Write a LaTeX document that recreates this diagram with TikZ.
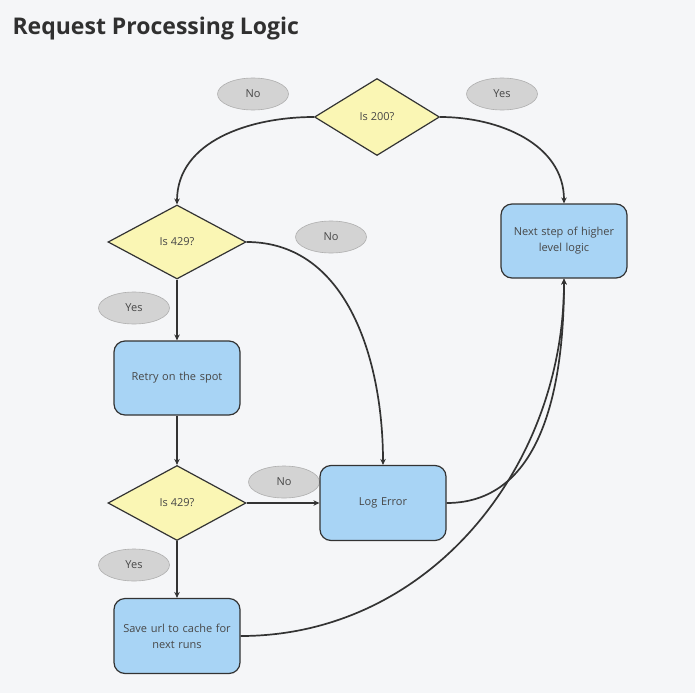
\documentclass[tikz,border=0pt]{standalone}
\usepackage{fontspec}
\setmainfont{Open Sans}
\usetikzlibrary{shapes.geometric,arrows.meta}
\definecolor{bg}{HTML}{F5F6F8}
\definecolor{dfill}{HTML}{FAF6B4}
\definecolor{bfill}{HTML}{A8D4F5}
\definecolor{efill}{HTML}{D3D3D3}
\definecolor{edraw}{HTML}{AFAFAF}
\definecolor{ink}{HTML}{333333}
\begin{document}
\begin{tikzpicture}[x=1pt,y=-1pt,
  dec/.style={diamond,draw=ink,line width=1.2pt,fill=dfill,minimum width=138pt,minimum height=74pt,inner sep=0pt,font=\fontsize{11}{13}\selectfont,text=ink!90},
  proc/.style={rectangle,rounded corners=11pt,draw=ink,line width=1.2pt,fill=bfill,minimum width=126pt,minimum height=74pt,align=center,text width=118pt,font=\fontsize{11}{16}\selectfont,text=ink!90},
  lbl/.style={ellipse,draw=edraw,line width=0.6pt,fill=efill,minimum width=71pt,minimum height=32pt,inner sep=0pt,font=\fontsize{11}{13}\selectfont,text=ink!90},
  conn/.style={draw=ink,line width=1.7pt,-{Stealth[length=6pt,width=5.5pt]}}]
\useasboundingbox[fill=bg] (0,0) rectangle (695,693);
\node[anchor=base west,font=\fontsize{23}{26}\selectfont\bfseries,text=ink!95!black] (title) at (9,35) {Request Processing Logic};
\node[dec,minimum width=125pt,minimum height=77pt] (d200) at (377,117) {Is 200?};
\node[lbl] (no1) at (253,94) {No};
\node[lbl] (yes1) at (502,94) {Yes};
\node[proc] (next) at (564,241) {Next step of higher\\level logic};
\node[dec] (d429a) at (177,242) {Is 429?};
\node[lbl] (no2) at (331,237) {No};
\node[lbl] (yes2) at (134,308) {Yes};
\node[proc] (retry) at (177,378) {Retry on the spot};
\node[dec,minimum height=75pt] (d429b) at (177,503) {Is 429?};
\node[lbl] (no3) at (284,482) {No};
\node[proc,minimum height=75pt] (log) at (383,503) {Log Error};
\node[lbl] (yes3) at (134,565) {Yes};
\node[proc,minimum height=75pt] (save) at (177,636) {Save url to cache for\\next runs};
\draw[conn] (d200.west) to[out=180,in=90] (d429a.north);
\draw[conn] (d200.east) to[out=0,in=90] (next.north);
\draw[conn] (d429a.east) to[out=0,in=90] (log.north);
\draw[conn] (d429a.south) -- (retry.north);
\draw[conn] (retry.south) -- (d429b.north);
\draw[conn] (d429b.east) -- (log.west);
\draw[conn] (d429b.south) -- (save.north);
\draw[conn] (log.east) to[out=0,in=-90] (next.south);
\draw[conn] (save.east) to[out=0,in=-90] (next.south);
\end{tikzpicture}
\end{document}
